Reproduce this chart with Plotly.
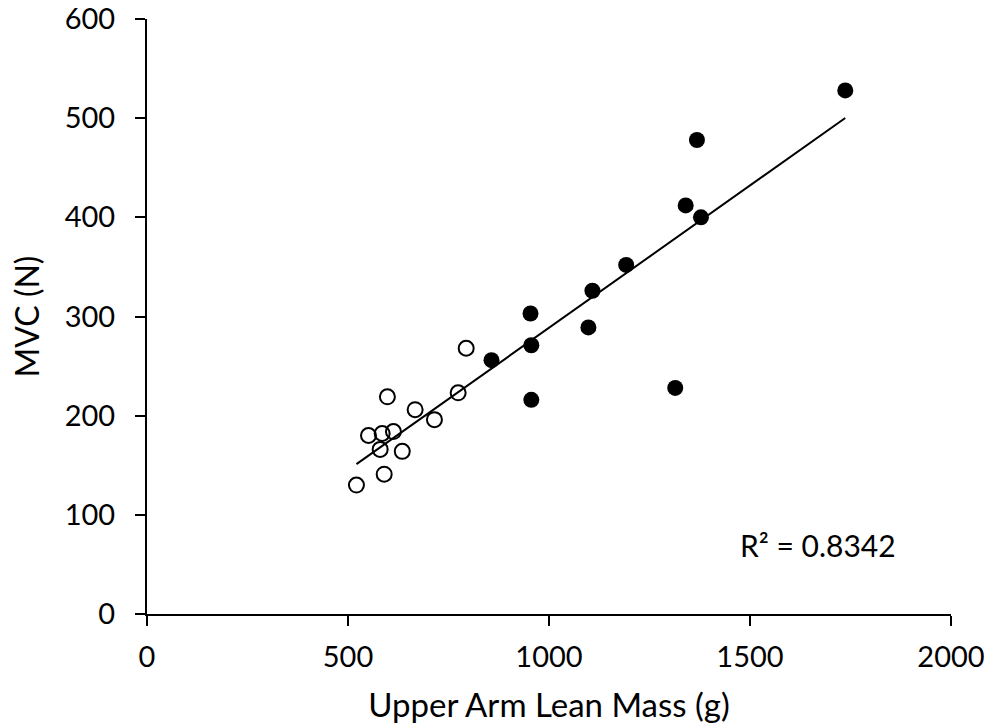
import numpy as np
import plotly.graph_objects as go

# Open-circle group
open_x = [521, 590, 551, 580, 585, 613, 598, 635, 667, 715, 774, 794]
open_y = [130, 141, 180, 166, 182, 184, 219, 164, 206, 196, 223, 268]

# Filled-circle group
filled_x = [857, 954, 956, 956, 1098, 1108, 1192, 1314, 1340, 1378, 1368, 1737]
filled_y = [256, 303, 271, 216, 289, 326, 352, 228, 412, 400, 478, 528]

x_ticks = [0, 500, 1000, 1500, 2000]
y_ticks = [0, 100, 200, 300, 400, 500, 600]
r2_label = "R² = 0.8342"

all_x = np.array(open_x + filled_x, dtype=float)
all_y = np.array(open_y + filled_y, dtype=float)
slope, intercept = np.polyfit(all_x, all_y, 1)
line_x = np.array([all_x.min(), all_x.max()])
line_y = slope * line_x + intercept

FONT = "Lato"

fig = go.Figure()
fig.add_trace(go.Scatter(x=line_x, y=line_y, mode="lines",
                         line=dict(color="black", width=2), showlegend=False,
                         hoverinfo="skip"))
fig.add_trace(go.Scatter(x=open_x, y=open_y, mode="markers",
                         marker=dict(symbol="circle-open", size=15, color="black",
                                     line=dict(width=2, color="black")),
                         showlegend=False))
fig.add_trace(go.Scatter(x=filled_x, y=filled_y, mode="markers",
                         marker=dict(symbol="circle", size=16, color="black",
                                     line=dict(width=0)),
                         showlegend=False))

fig.add_annotation(x=1670, y=70, xref="x", yref="y", text=r2_label, showarrow=False,
                   font=dict(family=FONT, size=30, color="black"))

fig.update_layout(
    width=994, height=725,
    margin=dict(l=147, r=43, t=19, b=111),
    paper_bgcolor="white", plot_bgcolor="white",
    font=dict(family=FONT, size=28, color="black"),
)
fig.update_xaxes(range=[0, 2000], tickvals=x_ticks, ticks="outside", ticklen=10,
                 tickwidth=2, tickcolor="black", showline=True, linecolor="black",
                 linewidth=2, showgrid=False, zeroline=False, automargin=False,
                 title_text="Upper Arm Lean Mass (g)", title_standoff=22,
                 title_font=dict(family=FONT, size=33, color="black"),
                 tickfont=dict(family=FONT, size=29, color="black"),
                 ticklabelstandoff=6, ticklabeloverflow="allow")
fig.update_yaxes(range=[0, 600], tickvals=y_ticks, ticks="outside", ticklen=10,
                 tickwidth=2, tickcolor="black", showline=True, linecolor="black",
                 linewidth=2, showgrid=False, zeroline=False, automargin=False,
                 title_text="MVC (N)", title_standoff=16,
                 title_font=dict(family=FONT, size=32, color="black"),
                 tickfont=dict(family=FONT, size=29, color="black"),
                 ticklabelstandoff=14, ticklabeloverflow="allow")

# remove the default 8px page margin so the 994x725 figure fills the window exactly
fig.write_html(
    "out.html",
    config={"displayModeBar": False},
    post_script="document.body.style.margin='0';document.body.style.overflow='hidden';",
)
